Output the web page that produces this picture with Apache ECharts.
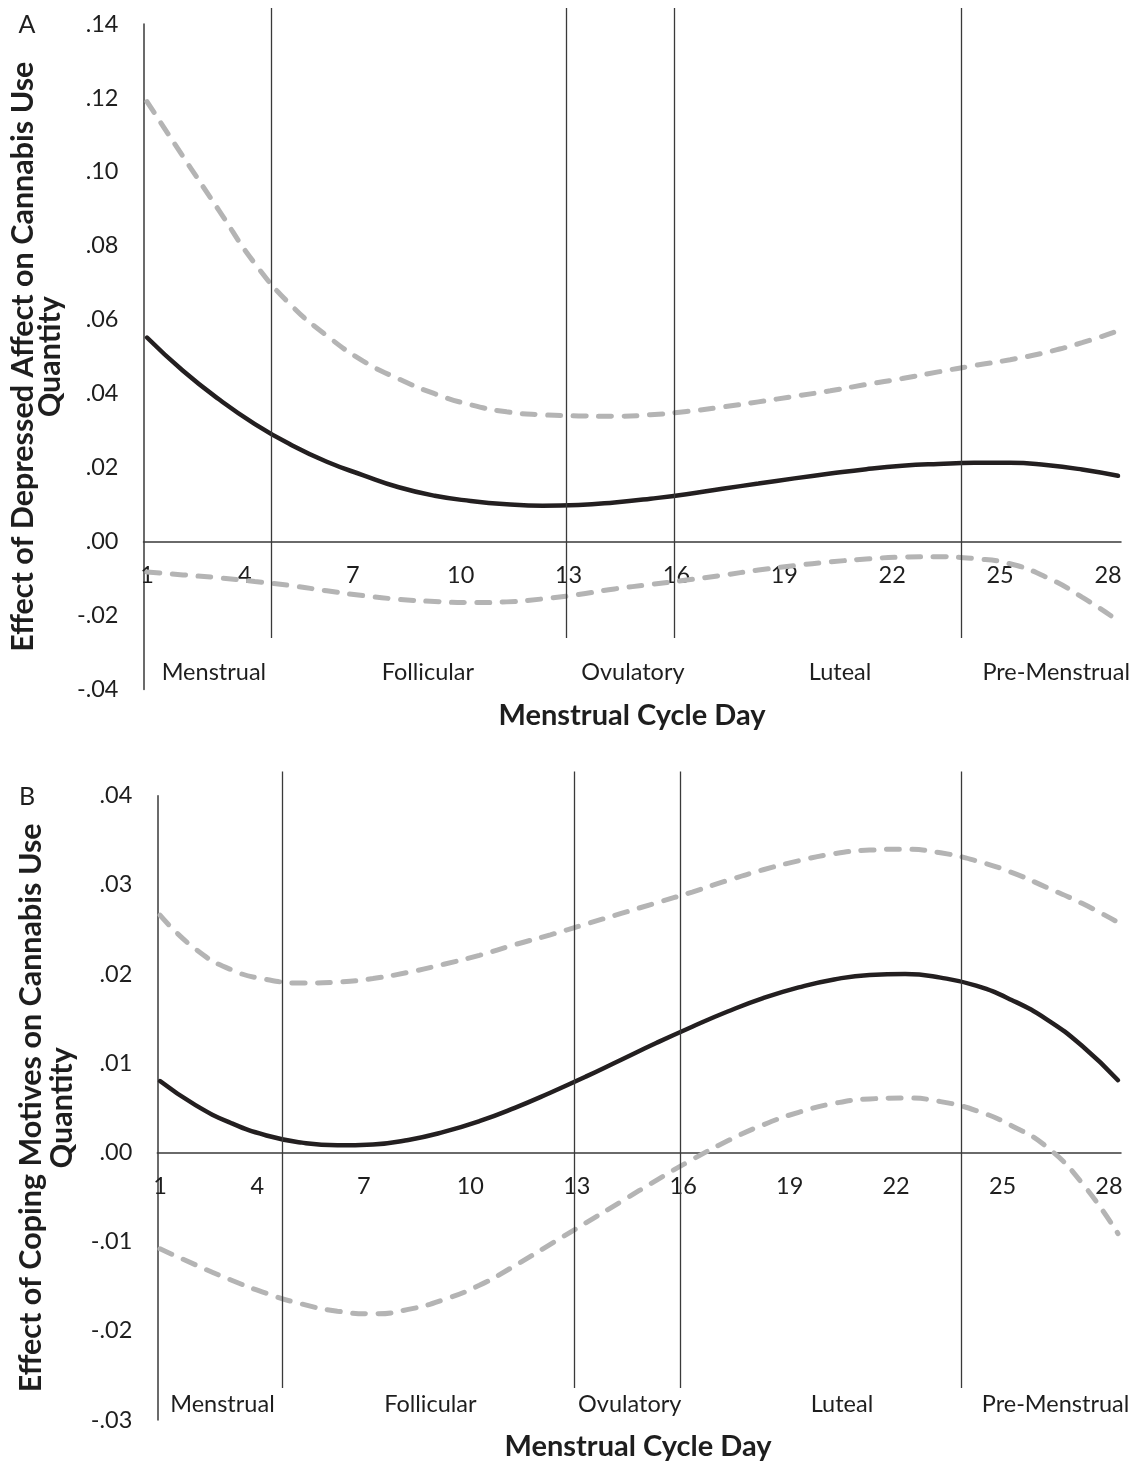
<!DOCTYPE html>
<html>
<head>
<meta charset="utf-8">
<script src="https://cdn.jsdelivr.net/npm/echarts@6/dist/echarts.min.js"></script>
<style>
  html, body { margin: 0; padding: 0; background: #ffffff; }
  #chart { width: 1145px; height: 1462px; }
</style>
</head>
<body>
<div id="chart"></div>
<script>
// ---- data ----
const days = [1, 2, 3, 4, 5, 6, 7, 8, 9, 10, 11, 12, 13, 14, 15, 16, 17, 18, 19, 20, 21, 22, 23, 24, 25, 26, 27, 28];
const dayTicks = [1, 4, 7, 10, 13, 16, 19, 22, 25, 28];
const phaseNames = ['Menstrual', 'Follicular', 'Ovulatory', 'Luteal', 'Pre-Menstrual'];

// Panel A: effect of depressed affect on cannabis use quantity
const depEffect = [0.0552, 0.0462, 0.0385, 0.0318, 0.0262, 0.0216, 0.0180, 0.0147, 0.0124, 0.0110,
                   0.0101, 0.0097, 0.0099, 0.0106, 0.0116, 0.0128, 0.0143, 0.0157, 0.0171, 0.0184,
                   0.0196, 0.0205, 0.0210, 0.0213, 0.0213, 0.0207, 0.0195, 0.0178];
const depUpper  = [0.1190, 0.1042, 0.0896, 0.0752, 0.0640, 0.0557, 0.0489, 0.0440, 0.0400, 0.0370,
                   0.0351, 0.0343, 0.0340, 0.0339, 0.0343, 0.0352, 0.0364, 0.0378, 0.0393, 0.0408,
                   0.0425, 0.0441, 0.0459, 0.0476, 0.0492, 0.0512, 0.0538, 0.0570];
const depLower  = [-0.0082, -0.0090, -0.0098, -0.0108, -0.0119, -0.0133, -0.0146, -0.0156, -0.0162, -0.0165,
                   -0.0163, -0.0155, -0.0143, -0.0128, -0.0116, -0.0104, -0.0091, -0.0077, -0.0065, -0.0055,
                   -0.0047, -0.0042, -0.0041, -0.0046, -0.0060, -0.0096, -0.0150, -0.0214];
const depPhaseBounds  = [4.45, 12.65, 15.65, 23.64];
const depPhaseCenters = [2.86, 8.81, 14.51, 20.27, 26.28];

// Panel B: effect of coping motives on cannabis use quantity
const copEffect = [0.0080, 0.0053, 0.0033, 0.0019, 0.0011, 0.0008, 0.0009, 0.0014, 0.0023, 0.0035,
                   0.0050, 0.0067, 0.0085, 0.0104, 0.0123, 0.0141, 0.0158, 0.0173, 0.0185, 0.0194,
                   0.0199, 0.0200, 0.0196, 0.0187, 0.0171, 0.0149, 0.0119, 0.0081];
const copUpper  = [0.0266, 0.0228, 0.0205, 0.0194, 0.0190, 0.0191, 0.0195, 0.0202, 0.0211, 0.0221,
                   0.0233, 0.0244, 0.0256, 0.0268, 0.0280, 0.0292, 0.0305, 0.0317, 0.0327, 0.0335,
                   0.0339, 0.0340, 0.0336, 0.0327, 0.0314, 0.0297, 0.0279, 0.0258];
const copLower  = [-0.0108, -0.0126, -0.0143, -0.0158, -0.0170, -0.0178, -0.0181, -0.0176, -0.0165, -0.0149,
                   -0.0127, -0.0103, -0.0079, -0.0055, -0.0031, -0.0008, 0.0013, 0.0031, 0.0045, 0.0055,
                   0.0060, 0.0061, 0.0057, 0.0047, 0.0030, 0.0006, -0.0035, -0.0091];
const copPhaseBounds  = [4.44, 12.67, 15.66, 23.58];
const copPhaseCenters = [2.76, 8.62, 14.24, 20.22, 26.24];

// ---- styles ----
const FONT = 'Lato';
const INK = '#1e1e1e';
const AXIS_INK = '#3a3a3a';
const SOLID = '#231f20';
const BAND = '#b4b4b4';

const panels = [
  { left: 143.5, top: 24,    width: 977.5, height: 665.5, xMin: 0.903, xMax: 28.083, yMin: -0.04, yMax: 0.14, step: 0.02 },
  { left: 157.3, top: 795.7, width: 963.7, height: 624.3, xMin: 0.924, xMax: 28.085, yMin: -0.03, yMax: 0.04, step: 0.01 }
];

function yFmt(v) {
  const s = Math.abs(v).toFixed(2).replace(/^0/, '');
  return (v < -1e-9 ? '-' : '') + s;
}

function pairs(vals) {
  return days.map((d, i) => [d, vals[i]]);
}

// day axis drawn along the zero line of the panel
function xAxisFor(idx, shift) {
  const p = panels[idx];
  const zeroOffset = -p.height * (0 - p.yMin) / (p.yMax - p.yMin);
  return {
    gridIndex: idx,
    type: 'value',
    min: p.xMin,
    max: p.xMax,
    position: 'bottom',
    offset: zeroOffset,
    axisLine: { onZero: false, lineStyle: { color: AXIS_INK, width: 1.5 } },
    axisTick: { show: false },
    splitLine: { show: false },
    axisLabel: {
      customValues: dayTicks,
      margin: 22,
      formatter: v => (v === 1 ? '{f|1}' : '{r|' + v + '}'),
      rich: {
        f: { fontFamily: FONT, fontSize: 23.5, color: INK },
        r: { fontFamily: FONT, fontSize: 23.5, color: INK, padding: [0, shift, 0, 0] }
      }
    }
  };
}

function yAxisFor(idx, name, gap, lineGap) {
  const p = panels[idx];
  return {
    gridIndex: idx,
    type: 'value',
    min: p.yMin,
    max: p.yMax,
    interval: p.step,
    axisLine: { show: true, onZero: false, lineStyle: { color: AXIS_INK, width: 1.5 } },
    axisTick: { show: false },
    splitLine: { show: false },
    axisLabel: { margin: 25, formatter: yFmt, fontFamily: FONT, fontSize: 23.5, color: INK },
    name: name,
    nameLocation: 'middle',
    nameRotate: 90,
    nameGap: gap,
    nameTextStyle: { fontFamily: FONT, fontWeight: 'bold', fontSize: 30.5, lineHeight: lineGap, color: INK, align: 'center' }
  };
}

function bandSeries(idx, vals) {
  return {
    type: 'line', xAxisIndex: idx, yAxisIndex: idx, data: pairs(vals),
    smooth: true, symbol: 'none', silent: true, z: 3,
    lineStyle: { color: BAND, width: 5, type: [13, 12.5], cap: 'round' }
  };
}

function effectSeries(idx, vals) {
  return {
    type: 'line', xAxisIndex: idx, yAxisIndex: idx, data: pairs(vals),
    smooth: true, symbol: 'none', silent: true, z: 4,
    lineStyle: { color: SOLID, width: 4.5, cap: 'round' }
  };
}

// phase boundary rules, drawn through the axis scales
function boundarySeries(idx, bounds, topVal, bottomVal) {
  return {
    type: 'custom', xAxisIndex: idx, yAxisIndex: idx, silent: true, z: 5,
    data: bounds.map(b => [b, 0]),
    encode: { x: 0, y: 1 },
    renderItem: (params, api) => {
      const x = api.value(0);
      const p1 = api.coord([x, topVal]);
      const p2 = api.coord([x, bottomVal]);
      return {
        type: 'line',
        shape: { x1: Math.round(p1[0]) + 0.5, y1: p1[1], x2: Math.round(p2[0]) + 0.5, y2: p2[1] },
        style: { stroke: AXIS_INK, lineWidth: 1.3 }
      };
    }
  };
}

// phase names under the curves
function phaseSeries(idx, centers, labelVal) {
  return {
    type: 'custom', xAxisIndex: idx, yAxisIndex: idx, silent: true, z: 6,
    data: centers.map(c => [c, labelVal]),
    encode: { x: 0, y: 1 },
    renderItem: (params, api) => {
      const p = api.coord([api.value(0), api.value(1)]);
      return {
        type: 'text', x: p[0], y: p[1],
        style: {
          text: phaseNames[params.dataIndex], fill: INK,
          font: '23.5px ' + FONT, textAlign: 'center', textVerticalAlign: 'middle'
        }
      };
    }
  };
}

const chart = echarts.init(document.getElementById('chart'), null, { renderer: 'canvas' });

chart.setOption({
  animation: false,
  backgroundColor: '#ffffff',
  grid: panels.map(p => ({ left: p.left, top: p.top, width: p.width, height: p.height })),
  xAxis: [
    xAxisFor(0, 20),
    xAxisFor(1, 18)
  ],
  yAxis: [
    yAxisFor(0, 'Effect of Depressed Affect on Cannabis Use\nQuantity', 74, 27),
    yAxisFor(1, 'Effect of Coping Motives on Cannabis Use\nQuantity', 80, 31)
  ],
  graphic: [
    { type: 'text', x: 27, y: 25, style: { text: 'A', font: '25px ' + FONT, fill: INK, textAlign: 'center', textVerticalAlign: 'middle' } },
    { type: 'text', x: 27, y: 797, style: { text: 'B', font: '25px ' + FONT, fill: INK, textAlign: 'center', textVerticalAlign: 'middle' } },
    { type: 'text', x: 632, y: 716, style: { text: 'Menstrual Cycle Day', font: 'bold 29px ' + FONT, fill: INK, textAlign: 'center', textVerticalAlign: 'middle' } },
    { type: 'text', x: 638, y: 1447, style: { text: 'Menstrual Cycle Day', font: 'bold 29px ' + FONT, fill: INK, textAlign: 'center', textVerticalAlign: 'middle' } }
  ],
  series: [
    boundarySeries(0, depPhaseBounds, 0.1443, -0.0261),
    bandSeries(0, depUpper),
    bandSeries(0, depLower),
    effectSeries(0, depEffect),
    phaseSeries(0, depPhaseCenters, -0.0355),

    boundarySeries(1, copPhaseBounds, 0.0427, -0.0264),
    bandSeries(1, copUpper),
    bandSeries(1, copLower),
    effectSeries(1, copEffect),
    phaseSeries(1, copPhaseCenters, -0.0283)
  ]
});
</script>
</body>
</html>
